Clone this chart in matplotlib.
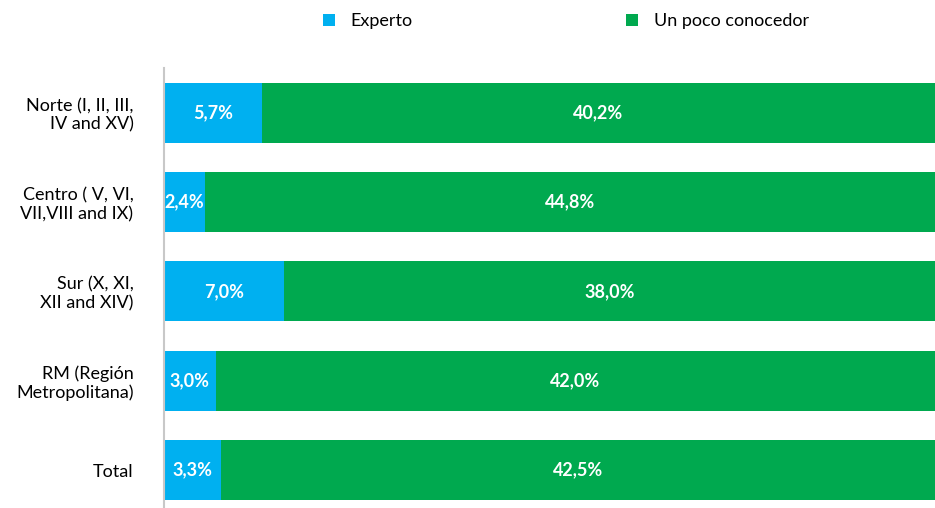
import matplotlib.pyplot as plt
import numpy as np

plt.rcParams['font.family'] = ['Lato', 'DejaVu Sans']

categories = ['Norte (I, II, III,\nIV and XV)',
              'Centro ( V, VI,\nVII,VIII and IX)',
              'Sur (X, XI,\nXII and XIV)',
              'RM (Región\nMetropolitana)',
              'Total']
experto = [5.7, 2.4, 7.0, 3.0, 3.3]
conocedor = [40.2, 44.8, 38.0, 42.0, 42.5]
series_names = ['Experto', 'Un poco conocedor']
colors = ['#00B0F0', '#00A94F']

xmax = 44.9

fig = plt.figure(figsize=(9.35, 5.08), dpi=100)
ax = fig.add_axes([164 / 935, 0, 1 - 164 / 935, 1 - 68 / 508])

y = np.arange(len(categories))
b1 = ax.barh(y, experto, height=0.67, color=colors[0], label=series_names[0])
b2 = ax.barh(y, conocedor, left=experto, height=0.67, color=colors[1], label=series_names[1])

for i in range(len(categories)):
    # labels centred on the visible part of each segment
    e_end = min(experto[i], xmax)
    ax.text(e_end / 2, y[i], f'{experto[i]:.1f}%'.replace('.', ','),
            ha='center', va='center', color='white', fontsize=13, fontweight='bold')
    c_end = min(experto[i] + conocedor[i], xmax)
    ax.text((experto[i] + c_end) / 2, y[i], f'{conocedor[i]:.1f}%'.replace('.', ','),
            ha='center', va='center', color='white', fontsize=13, fontweight='bold')

ax.set_xlim(0, xmax)
ax.set_ylim(4.425, -0.5)
ax.set_yticks(y)
ax.set_yticklabels(categories, fontsize=13, ha='right')
ax.tick_params(axis='y', length=0, pad=22)
ax.set_xticks([])
for s in ['top', 'right', 'bottom']:
    ax.spines[s].set_visible(False)
ax.spines['left'].set_color('#C8C8C8')
ax.spines['left'].set_linewidth(1.5)

fig.legend(handles=[b1, b2], labels=series_names, loc='center',
           bbox_to_anchor=(566 / 935, 1 - 21 / 508), ncol=2, frameon=False,
           fontsize=13, handlelength=0.66, handleheight=0.66,
           handletextpad=0.9, columnspacing=11.8)

fig.savefig('out.png', dpi=100)
